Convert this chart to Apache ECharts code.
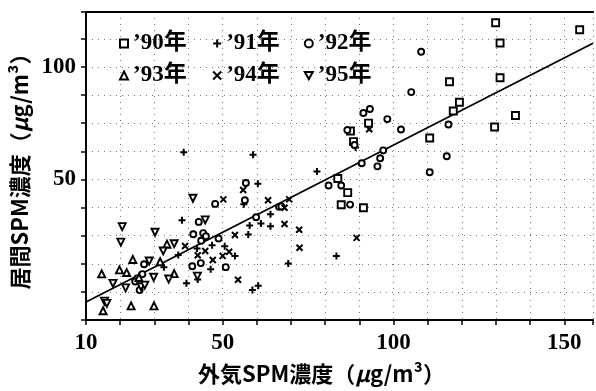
<!DOCTYPE html>
<html><head><meta charset="utf-8">
<script src="https://cdn.jsdelivr.net/npm/echarts@6/dist/echarts.min.js"></script>
<style>html,body{margin:0;padding:0;background:#fff}#c{width:596px;height:391px}</style>
</head><body><div id="c"></div>
<script>
// Series names
const names = ['’90年', '’91年', '’92年', '’93年', '’94年', '’95年'];

// '90
const x90 = [129.9, 154.5, 131.2, 116.4, 131.2, 119.3, 117.5, 135.7, 129.6, 110.6, 92.7, 87.4, 88.3, 83.7, 86.6, 84.7, 91.2];
const y90 = [119.6, 116.5, 110.6, 93.4, 95.2, 84.3, 80.4, 78.4, 73.3, 68.4, 75.0, 71.5, 66.8, 50.4, 44.1, 38.7, 37.4];
// '91
const x91 = [38.6, 58.9, 77.6, 60.3, 56.2, 38.1, 64.0, 57.9, 61.2, 64.0, 88.9, 83.3, 46.9, 50.6, 53.6, 37.0, 46.5, 69.2, 32.8, 39.4, 42.7, 60.4, 58.7, 42.5, 57.5];
const y91 = [62.1, 60.9, 53.5, 48.1, 38.9, 31.8, 34.5, 29.5, 30.4, 29.2, 64.2, 15.9, 20.7, 20.3, 15.9, 16.4, 10.1, 12.6, 10.9, 3.8, 5.5, 2.7, 0.8, 19.3, 25.5];
// '92
const x92 = [108.1, 105.2, 91.2, 93.1, 98.2, 116.1, 102.2, 86.5, 88.6, 115.6, 97.0, 96.1, 90.7, 95.3, 110.6, 81.0, 84.7, 87.3, 56.8, 56.5, 47.8, 66.5, 67.2, 59.8, 43.0, 41.4, 44.3, 45.1, 48.8, 43.7, 43.6, 41.1, 50.9, 27.0, 26.5, 25.0, 24.4, 25.7];
const y92 = [106.7, 88.8, 79.5, 81.3, 76.8, 74.4, 72.2, 71.9, 65.3, 60.3, 62.9, 59.4, 57.2, 55.8, 53.2, 47.3, 47.3, 38.8, 48.4, 40.7, 39.1, 37.8, 38.0, 33.2, 31.1, 25.6, 26.1, 24.7, 23.7, 22.7, 12.8, 11.4, 11.0, 12.3, 7.9, 6.0, 4.6, 0.8];
// '93
const x93 = [33.7, 23.7, 31.7, 19.8, 14.6, 21.9, 35.8, 25.5, 15.0, 23.2, 29.9];
const y93 = [21.2, 14.4, 13.4, 9.8, 8.0, 8.6, 8.1, 6.4, -8.4, -6.2, -6.2];
// '94
const x94 = [92.9, 56.0, 50.2, 63.3, 69.5, 68.1, 68.1, 72.4, 53.6, 39.0, 72.5, 44.9, 51.9, 42.7, 50.0, 47.1, 54.5, 89.2];
const y94 = [72.3, 45.3, 41.1, 40.7, 41.1, 37.4, 30.2, 27.6, 25.3, 20.4, 19.6, 18.2, 17.8, 16.3, 16.0, 14.2, 5.4, 24.0];
// '95
const x95 = [41.3, 44.9, 20.6, 30.2, 20.2, 35.8, 32.6, 28.5, 29.8, 34.2, 42.6, 17.9, 21.6, 26.1, 27.2, 15.4, 16.1];
const y95 = [41.6, 32.0, 29.0, 26.5, 22.1, 21.4, 18.2, 13.7, 6.5, 5.7, 7.0, 3.8, 1.8, 2.3, 3.0, -4.1, -5.1];

// regression line end points
const fitX = [10, 158.4];
const fitY = [-4.5, 110.5];

// tick labels
const xLabels = [10, 50, 100, 150];
const yLabels = [50, 100];

const zip = (xs, ys) => xs.map((x, i) => [x, ys[i]]);

const serifFont = '"Liberation Serif", "DejaVu Serif", "Noto Sans CJK JP", serif';
const sansFont = '"Noto Sans CJK JP", "Noto Sans", sans-serif';

const hollow = { color: '#fff', borderColor: '#000', borderWidth: 1.9, opacity: 1 };
const strokeOnly = { color: 'none', borderColor: '#000', borderWidth: 2, opacity: 1 };

const symbols = [
  { symbol: 'rect', size: 7, style: hollow },
  { symbol: 'path://M5,0L5,10M0,5L10,5', size: 7, style: strokeOnly },
  { symbol: 'circle', size: 6, style: hollow },
  { symbol: 'triangle', size: 7, style: hollow },
  { symbol: 'path://M0,0L10,10M10,0L0,10', size: 6, style: strokeOnly },
  { symbol: 'path://M0,0L10,0L5,9Z', size: 7, style: hollow }
];
const dataSets = [zip(x90, y90), zip(x91, y91), zip(x92, y92), zip(x93, y93), zip(x94, y94), zip(x95, y95)];

const scatterSeries = names.map((n, i) => ({
  name: n,
  type: 'scatter',
  symbol: symbols[i].symbol,
  symbolSize: symbols[i].size,
  itemStyle: symbols[i].style,
  data: dataSets[i],
  z: 3
}));

const legendCommon = {
  itemWidth: 8, itemHeight: 8, itemGap: 24,
  textStyle: { fontFamily: serifFont, fontWeight: 'bold', fontSize: 23, color: '#000' },
  selectedMode: false
};

const titleRich = {
  n: { fontFamily: sansFont, fontSize: 22, fontWeight: 'bold', color: '#000' },
  i: { fontFamily: sansFont, fontSize: 22, fontWeight: 'bold', fontStyle: 'italic', color: '#000' }
};

const chart = echarts.init(document.getElementById('c'), null, { renderer: 'canvas' });
chart.setOption({
  animation: false,
  backgroundColor: '#fff',
  grid: { left: 86, right: 0, top: 12, bottom: 71 },
  legend: [
    Object.assign({ data: names.slice(0, 3), left: 114, top: 27 }, legendCommon),
    Object.assign({ data: names.slice(3, 6), left: 114, top: 59 }, legendCommon)
  ],
  xAxis: [{
    type: 'value', min: 10, max: 158.4, interval: 10,
    name: '{n|外気SPM濃度（}{i|μ}{n|g/m³）}',
    nameLocation: 'middle', nameGap: 43,
    nameTextStyle: { rich: titleRich, padding: [0, 36, 0, 0] },
    axisLine: { show: true, onZero: false, lineStyle: { color: '#000', width: 2 } },
    axisTick: { show: true, inside: false, length: 5, lineStyle: { color: '#000', width: 1.5 } },
    axisLabel: {
      margin: 12, color: '#000', fontFamily: serifFont, fontWeight: 'bold', fontSize: 23,
      formatter: v => (xLabels.indexOf(Math.round(v * 10) / 10) >= 0 ? String(v) : '')
    },
    splitLine: { show: true, lineStyle: { color: '#777', width: 1, type: [1, 5] } }
  }, {
    type: 'value', position: 'top', min: 10, max: 158.4,
    axisLine: { show: true, onZero: false, lineStyle: { color: '#000', width: 2 } },
    axisTick: { show: false }, axisLabel: { show: false }, splitLine: { show: false }
  }],
  yAxis: {
    type: 'value', min: -12.5, max: 124.4, interval: 12.5,
    name: '{n|居間SPM濃度（}{i|μ}{n|g/m³）}',
    nameLocation: 'middle', nameGap: 50, nameRotate: 90,
    nameTextStyle: { rich: titleRich },
    axisLine: { show: true, onZero: false, lineStyle: { color: '#000', width: 2 } },
    axisTick: { show: true, inside: false, length: 5, lineStyle: { color: '#000', width: 1.5 } },
    axisLabel: {
      margin: 10, color: '#000', fontFamily: serifFont, fontWeight: 'bold', fontSize: 23,
      formatter: v => (yLabels.indexOf(Math.round(v * 10) / 10) >= 0 ? String(v) : '')
    },
    splitLine: { show: true, lineStyle: { color: '#777', width: 1, type: [1, 5] } }
  },
  series: scatterSeries.concat([{
    name: 'fit', type: 'line', data: zip(fitX, fitY), symbol: 'none', silent: true,
    lineStyle: { color: '#000', width: 1.8 }, z: 2
  }])
});
</script>
</body></html>
